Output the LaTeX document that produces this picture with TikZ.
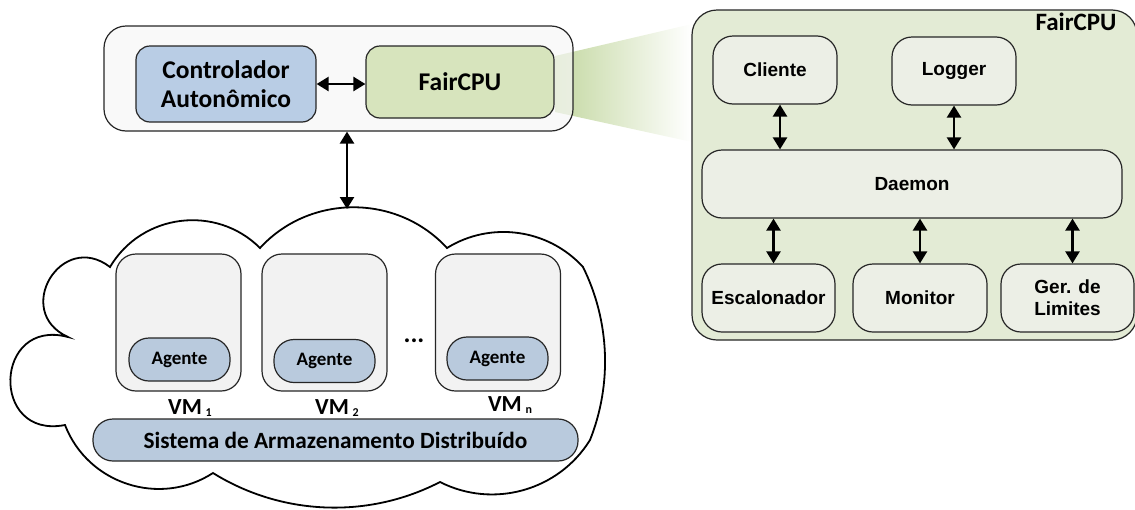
\documentclass[tikz,border=0pt]{standalone}
\usepackage{fontspec}
\setmainfont{Carlito}
\newfontfamily\arialfont{Liberation Sans}
\usepackage{tikz}
\usetikzlibrary{arrows.meta}

\definecolor{hostfill}{HTML}{F7F7F7}
\definecolor{ctrlblue}{HTML}{B9CDE5}
\definecolor{fairgreen}{HTML}{D7E4BD}
\definecolor{vmgray}{HTML}{F2F2F2}
\definecolor{agentblue}{HTML}{B9CADD}
\definecolor{panelgreen}{HTML}{E3EBD5}
\definecolor{partfill}{HTML}{ECEFE6}
\definecolor{wedgegreen}{HTML}{C4D8A2}

\begin{document}
\begin{tikzpicture}[x=1pt,y=-1pt,>={Triangle[length=12pt,width=14pt]},
    box/.style={draw=black!85,line width=1.2pt,align=center,inner sep=2pt,font=\bfseries},
    bigbox/.style={box,rounded corners=14pt,font=\fontsize{25.5}{29}\selectfont\bfseries},
    vmbox/.style={box,rounded corners=20pt,fill=vmgray,minimum width=125pt,minimum height=137pt},
    agent/.style={box,rounded corners=20pt,fill=agentblue,minimum width=101pt,minimum height=43pt,
        font=\fontsize{19}{22}\selectfont\bfseries},
    vmlabel/.style={font=\fontsize{23}{27}\selectfont\bfseries},
    part/.style={box,rounded corners=20pt,fill=partfill,minimum height=68pt,
        font=\arialfont\fontsize{19}{22}\selectfont\bfseries},
    dbl/.style={<->,line width=2.4pt}]
    \useasboundingbox (0,0) rectangle (1135,509);

    % zoom wedge
    \shade[left color=wedgegreen,right color=white] (555,56) -- (692,24) -- (692,142) -- (555,112) -- cycle;

    % host with controller
    \node[box,rounded corners=22pt,fill=hostfill,fill opacity=0.7,minimum width=469pt,minimum height=105pt] (host) at (338.5,78.5) {};
    \node[bigbox,fill=ctrlblue,minimum width=180pt,minimum height=76pt] (ctrl) at (226,84) {Controlador\\Autonômico};
    \node[bigbox,fill=fairgreen,minimum width=188pt,minimum height=72pt] (fair) at (460,82) {FairCPU};
    \draw[dbl] (ctrl.east) -- (ctrl.east -| fair.west);

    % cloud
    \draw[line width=1.8pt,fill=white] (260,248)
        to[bend left=47.5,looseness=1.01] (447,248)
        to[bend left=39.8,looseness=0.96] (583,267)
        to[bend left=24,looseness=0.89] (590,440)
        to[bend left=42.6,looseness=0.98] (440,482)
        to[bend left=29.6,looseness=0.91] (213,473)
        to[bend left=50.9,looseness=1.04] (65,425)
        to[bend left=103,looseness=2.23] (68,337)
        to[bend left=96.5,looseness=1.92] (110,267)
        to[bend left=52.2,looseness=1.05] (260,248) -- cycle;
    \coordinate (cloudtop) at (347,209);
    \draw[dbl] (cloudtop |- host.south) -- (cloudtop);

    \node[vmbox] (vm1) at (178.5,322.5) {};
    \node[vmbox] (vm2) at (324.5,322.5) {};
    \node[vmbox] (vmn) at (498,322.5) {};
    \node[agent] (ag1) at (179.5,359.5) {Agente};
    \node[agent] (ag2) at (324.5,361) {Agente};
    \node[agent] (agn) at (497.5,358.5) {Agente};
    \node[font=\fontsize{26}{26}\selectfont\bfseries] (dots) at (414,341) {...};
    \node[vmlabel] (vml1) at (190,408) {VM\,\raisebox{-2pt}{\fontsize{12}{12}\selectfont 1}};
    \node[vmlabel] (vml2) at (337,408) {VM\,\raisebox{-2pt}{\fontsize{12}{12}\selectfont 2}};
    \node[vmlabel] (vmln) at (510,405) {VM\,\raisebox{-2pt}{\fontsize{12}{12}\selectfont n}};
    \node[agent,minimum width=485pt,minimum height=42pt,font=\fontsize{23.3}{26}\selectfont\bfseries] (store) at (335.5,440) {Sistema de Armazenamento Distribuído};

    % FairCPU detail
    \node[box,rounded corners=25pt,fill=panelgreen,minimum width=445pt,minimum height=330pt] (panel) at (914.5,175) {};
    \node[font=\fontsize{25}{25}\selectfont\bfseries] (ptitle) at (1076,22) {FairCPU};
    \node[part,minimum width=124pt] (cliente) at (775,70) {Cliente};
    \node[part,minimum width=124pt] (logger) at (954,71) {Logger};
    \node[part,minimum width=420pt] (daemon) at (912,184) {Daemon};
    \node[part,minimum width=133pt] (escal) at (768.5,298) {Escalonador};
    \node[part,minimum width=134pt] (monitor) at (920,298) {Monitor};
    \node[part,minimum width=133pt] (limites) at (1067.5,298) {Ger. de\\Limites};
    \draw[dbl] ([xshift=5pt]cliente.south) -- ([xshift=5pt]cliente.south |- daemon.north);
    \draw[dbl] (logger.south) -- (logger.south |- daemon.north);
    \draw[dbl] ([xshift=5pt]escal.north) -- ([xshift=5pt]escal.north |- daemon.south);
    \draw[dbl] (monitor.north) -- (monitor.north |- daemon.south);
    \draw[dbl] ([xshift=5pt]limites.north) -- ([xshift=5pt]limites.north |- daemon.south);
\end{tikzpicture}
\end{document}
